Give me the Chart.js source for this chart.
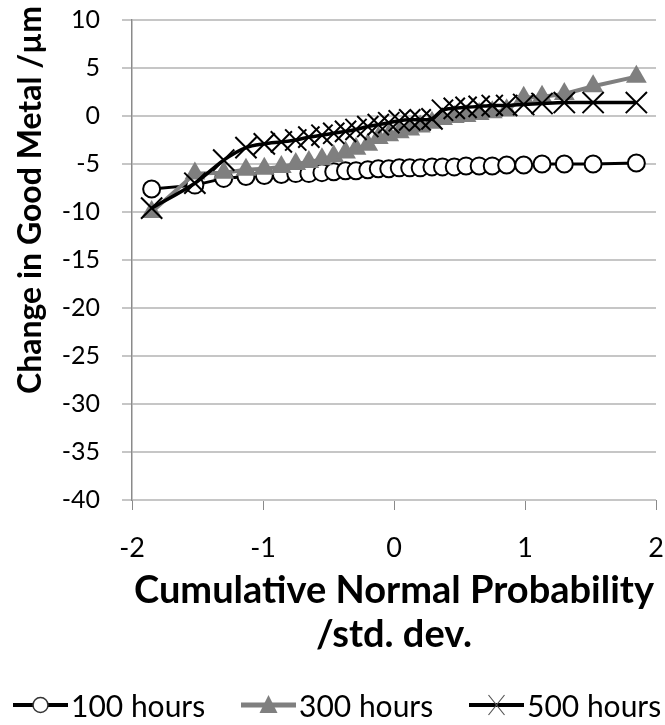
<!DOCTYPE html>
<html>
<head>
<meta charset="utf-8">
<title>Change in Good Metal</title>
<script src="https://cdn.jsdelivr.net/npm/chart.js@4/dist/chart.umd.min.js"></script>
<style>
  html, body { margin: 0; padding: 0; background: #ffffff; }
  #wrap { width: 665px; height: 725px; }
</style>
</head>
<body>
<div id="wrap"><canvas id="chart" width="665" height="725"></canvas></div>
<script>
// Normal-score positions (std. dev.) shared by all three exposure times
const probability = [
  -1.85, -1.52, -1.30, -1.13, -0.99, -0.86, -0.75, -0.65, -0.55, -0.46,
  -0.37, -0.29, -0.20, -0.12, -0.04, 0.04, 0.12, 0.20, 0.29, 0.37,
  0.46, 0.55, 0.65, 0.75, 0.86, 0.99, 1.13, 1.30, 1.52, 1.85
];

// Change in good metal (µm), sorted, per exposure time
const hours100 = [
  -7.6, -7.2, -6.5, -6.3, -6.2, -6.1, -6.0, -6.0, -5.9, -5.8,
  -5.7, -5.7, -5.6, -5.5, -5.5, -5.4, -5.4, -5.4, -5.3, -5.3,
  -5.3, -5.2, -5.2, -5.2, -5.1, -5.1, -5.0, -5.0, -5.0, -4.9
];
const hours300 = [
  -10.0, -6.0, -5.9, -5.6, -5.5, -5.3, -5.0, -4.8, -4.5, -4.2,
  -3.8, -3.4, -3.0, -2.3, -2.0, -1.7, -1.4, -1.1, -0.7, -0.3,
  -0.1, 0.0, 0.2, 0.4, 0.6, 1.9, 2.0, 2.3, 3.1, 4.1
];
const hours500 = [
  -9.6, -7.0, -4.6, -3.3, -2.9, -2.7, -2.5, -2.2, -2.0, -1.8,
  -1.6, -1.4, -1.1, -0.9, -0.7, -0.5, -0.4, -0.4, -0.3, 0.6,
  0.8, 0.9, 1.0, 1.1, 1.1, 1.2, 1.3, 1.4, 1.4, 1.4
];

const seriesLabels = ['100 hours', '300 hours', '500 hours'];
const xTicks = [-2, -1, 0, 1, 2];
const yTicks = [10, 5, 0, -5, -10, -15, -20, -25, -30, -35, -40];
const xTitle = ['Cumulative Normal Probability', '/std. dev.'];
const yTitle = 'Change in Good Metal /\u00b5m';

const FONT = 'Lato, "Open Sans", "DejaVu Sans", sans-serif';
const GREY = '#7f7f7f';

const toPoints = (ys) => probability.map((x, i) => ({ x: x, y: ys[i] }));

// Rotated y-axis title, placed beside the tick labels
const yTitlePlugin = {
  id: 'yTitle',
  afterDraw(chart) {
    const ctx = chart.ctx;
    ctx.save();
    ctx.translate(31, 200);
    ctx.rotate(-Math.PI / 2);
    ctx.font = 'bold 32px ' + FONT;
    ctx.fillStyle = '#000';
    ctx.textAlign = 'center';
    ctx.textBaseline = 'middle';
    ctx.fillText(yTitle, 0, 0);
    ctx.restore();
  }
};

// Legend row under the axis title: line swatch with marker, then the label
const legendRow = {
  id: 'legendRow',
  afterDraw(chart) {
    const ctx = chart.ctx;
    const cy = 705;
    const items = [
      { x: 13, kind: 'circle' },
      { x: 241, kind: 'tri' },
      { x: 469, kind: 'cross' }
    ];
    ctx.save();
    items.forEach((it, i) => {
      const w = 55, mid = it.x + w / 2;
      ctx.lineCap = 'butt';
      ctx.strokeStyle = it.kind === 'tri' ? GREY : '#000';
      ctx.lineWidth = it.kind === 'tri' ? 5 : 4;
      ctx.beginPath(); ctx.moveTo(it.x, cy); ctx.lineTo(it.x + w, cy); ctx.stroke();
      if (it.kind === 'circle') {
        ctx.fillStyle = '#fff'; ctx.strokeStyle = '#333'; ctx.lineWidth = 1.5;
        ctx.beginPath(); ctx.arc(mid, cy, 7.5, 0, Math.PI * 2); ctx.fill(); ctx.stroke();
      } else if (it.kind === 'tri') {
        ctx.fillStyle = GREY;
        ctx.beginPath(); ctx.moveTo(mid, cy - 10); ctx.lineTo(mid + 9, cy + 8); ctx.lineTo(mid - 9, cy + 8); ctx.closePath(); ctx.fill();
      } else {
        ctx.strokeStyle = '#555'; ctx.lineWidth = 1.2;
        ctx.beginPath();
        ctx.moveTo(mid - 8, cy - 10); ctx.lineTo(mid + 8, cy + 10);
        ctx.moveTo(mid + 8, cy - 10); ctx.lineTo(mid - 8, cy + 10);
        ctx.stroke();
      }
      ctx.fillStyle = '#000';
      ctx.font = '30px ' + FONT;
      ctx.textAlign = 'left';
      ctx.textBaseline = 'alphabetic';
      ctx.fillText(chart.data.datasets[i].label, it.x + w + 3, 717);
    });
    ctx.restore();
  }
};

Chart.defaults.font.family = FONT;
Chart.defaults.color = '#000';

new Chart(document.getElementById('chart'), {
  type: 'line',
  data: {
    datasets: [
      {
        label: seriesLabels[0],
        data: toPoints(hours100),
        borderColor: '#000',
        borderWidth: 3,
        pointStyle: 'circle',
        pointRadius: 8.5,
        pointBorderWidth: 2,
        pointBackgroundColor: '#fff',
        pointBorderColor: '#000',
        tension: 0,
        order: 3
      },
      {
        label: seriesLabels[1],
        data: toPoints(hours300),
        borderColor: GREY,
        borderWidth: 4,
        pointStyle: 'triangle',
        pointRadius: 12,
        pointBorderWidth: 0,
        pointBackgroundColor: GREY,
        pointBorderColor: GREY,
        tension: 0,
        order: 2
      },
      {
        label: seriesLabels[2],
        data: toPoints(hours500),
        borderColor: '#000',
        borderWidth: 3.5,
        pointStyle: 'crossRot',
        pointRadius: 15,
        pointBorderWidth: 2,
        pointBorderColor: '#000',
        pointBackgroundColor: '#000',
        tension: 0.3,
        order: 1
      }
    ]
  },
  options: {
    responsive: false,
    animation: false,
    devicePixelRatio: 1,
    layout: { autoPadding: false, padding: { top: 20, right: 9, left: 0, bottom: 0 } },
    plugins: {
      tooltip: { enabled: false },
      legend: { display: false }
    },
    scales: {
      x: {
        type: 'linear',
        min: xTicks[0],
        max: xTicks[xTicks.length - 1],
        afterBuildTicks: (scale) => { scale.ticks = xTicks.map(v => ({ value: v })); },
        afterFit: (scale) => {
          scale.height = scale.chart.height - 500;
          scale.paddingLeft = 0;
          scale.paddingRight = 0;
        },
        grid: {
          drawOnChartArea: false,
          drawTicks: true,
          tickLength: 10,
          tickColor: '#8a8a8a',
          tickWidth: 1
        },
        border: { display: false },
        ticks: {
          padding: 22,
          font: { size: 27 },
          color: '#000',
          maxRotation: 0
        },
        title: {
          display: true,
          text: xTitle,
          font: { size: 38, weight: 'bold', lineHeight: 1.16 },
          color: '#000',
          padding: { top: 0, bottom: 68 }
        }
      },
      y: {
        type: 'linear',
        min: yTicks[yTicks.length - 1],
        max: yTicks[0],
        afterBuildTicks: (scale) => { scale.ticks = yTicks.slice().reverse().map(v => ({ value: v })); },
        afterFit: (scale) => {
          scale.width = 132;
          scale.paddingTop = 0;
          scale.paddingBottom = 0;
        },
        grid: {
          color: '#c6c6c6',
          lineWidth: 2,
          drawTicks: true,
          tickLength: 10,
          tickColor: '#c6c6c6'
        },
        border: { display: true, color: '#8a8a8a', width: 1.5 },
        ticks: {
          padding: 22,
          font: { size: 25 },
          color: '#000'
        }
      }
    }
  },
  plugins: [yTitlePlugin, legendRow]
});
</script>
</body>
</html>
